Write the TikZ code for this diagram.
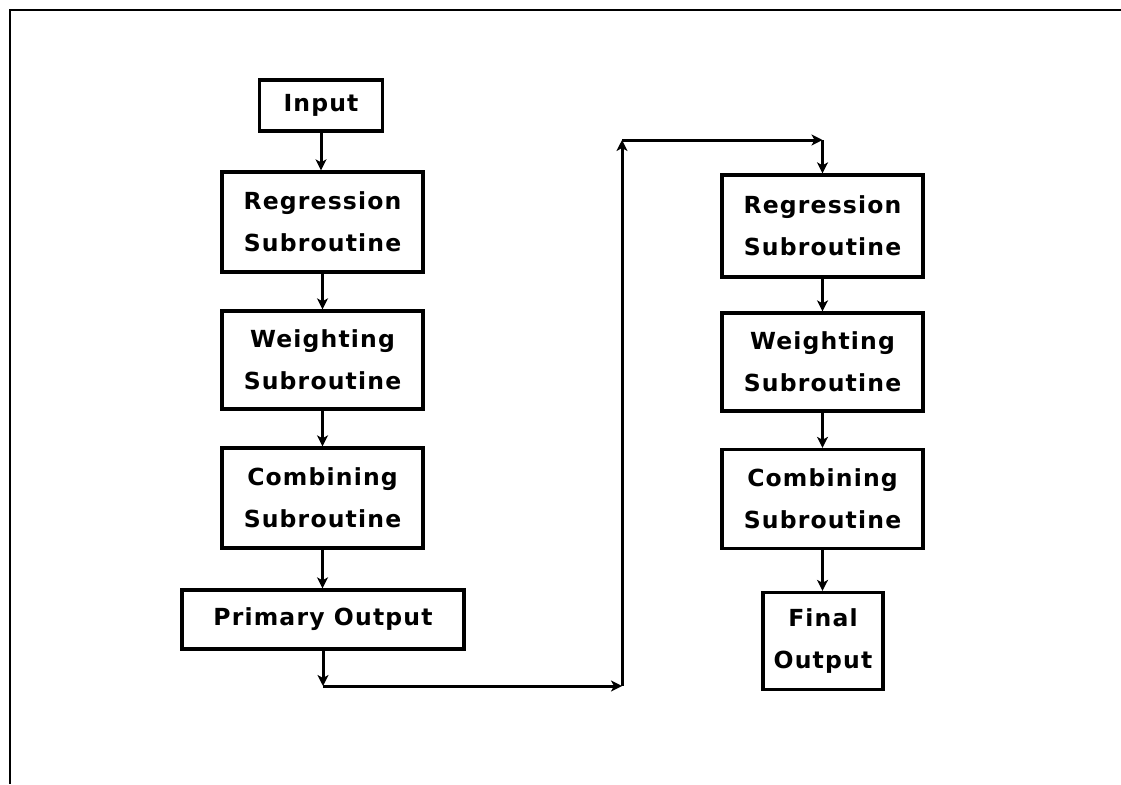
\documentclass[tikz,border=0pt]{standalone}
\usepackage{fontspec}
\newfontfamily\boxfont{DejaVu Sans}[LetterSpace=5]
\usetikzlibrary{arrows.meta}
\begin{document}
\begin{tikzpicture}[x=1pt,y=-1pt,
  blk/.style={draw,line width=3.3pt,inner sep=0pt,align=center,
    font=\boxfont\bfseries\fontsize{23.5}{42}\selectfont},
  conn/.style={line width=3pt,-{Stealth[length=11pt,width=11pt,inset=3pt]}},
  frame/.style={line width=2.8pt}]
\useasboundingbox (0,0) rectangle (1121,784);
\coordinate (ftl) at (10,10);
\coordinate (ftr) at (1121,10);
\coordinate (fbl) at (10,784);
\draw[frame] (ftr) -- (ftl) -- (fbl);
% left column
\node[blk,minimum width=123pt,minimum height=51pt] (in) at (321,105.5) {Input};
\node[blk,minimum width=201pt,minimum height=100pt] (r1) at (322.5,222) {Regression\\Subroutine};
\node[blk,minimum width=201pt,minimum height=98pt] (w1) at (322.5,360) {Weighting\\Subroutine};
\node[blk,minimum width=201pt,minimum height=100pt] (c1) at (322.5,498) {Combining\\Subroutine};
\node[blk,minimum width=282pt,minimum height=59pt] (po) at (323,619.5) {Primary Output};
% right column
\node[blk,minimum width=201pt,minimum height=102pt] (r2) at (822.5,226) {Regression\\Subroutine};
\node[blk,minimum width=201pt,minimum height=98pt] (w2) at (822.5,362) {Weighting\\Subroutine};
\node[blk,minimum width=201pt,minimum height=99pt] (c2) at (822.5,499) {Combining\\Subroutine};
\node[blk,minimum width=120pt,minimum height=97pt] (fo) at (823,641) {Final\\Output};
% connectors
\draw[conn] (in.south) -- (in.south |- r1.north);
\draw[conn] (r1) -- (w1);
\draw[conn] (w1) -- (c1);
\draw[conn] (c1.south) -- (c1.south |- po.north);
\draw[conn] (r2) -- (w2);
\draw[conn] (w2) -- (c2);
\draw[conn] (c2.south) -- (c2.south |- fo.north);
\coordinate (la) at (323,686);
\coordinate (lb) at (622,686);
\coordinate (lc) at (622,140);
\coordinate (ld) at (822.5,140);
\draw[conn] (po) -- (la);
\draw[conn] (la) -- (lb);
\draw[conn] (lb) -- (lc);
\draw[conn] (lc) -- (ld);
\draw[conn] (ld) -- (r2);
\end{tikzpicture}
\end{document}
